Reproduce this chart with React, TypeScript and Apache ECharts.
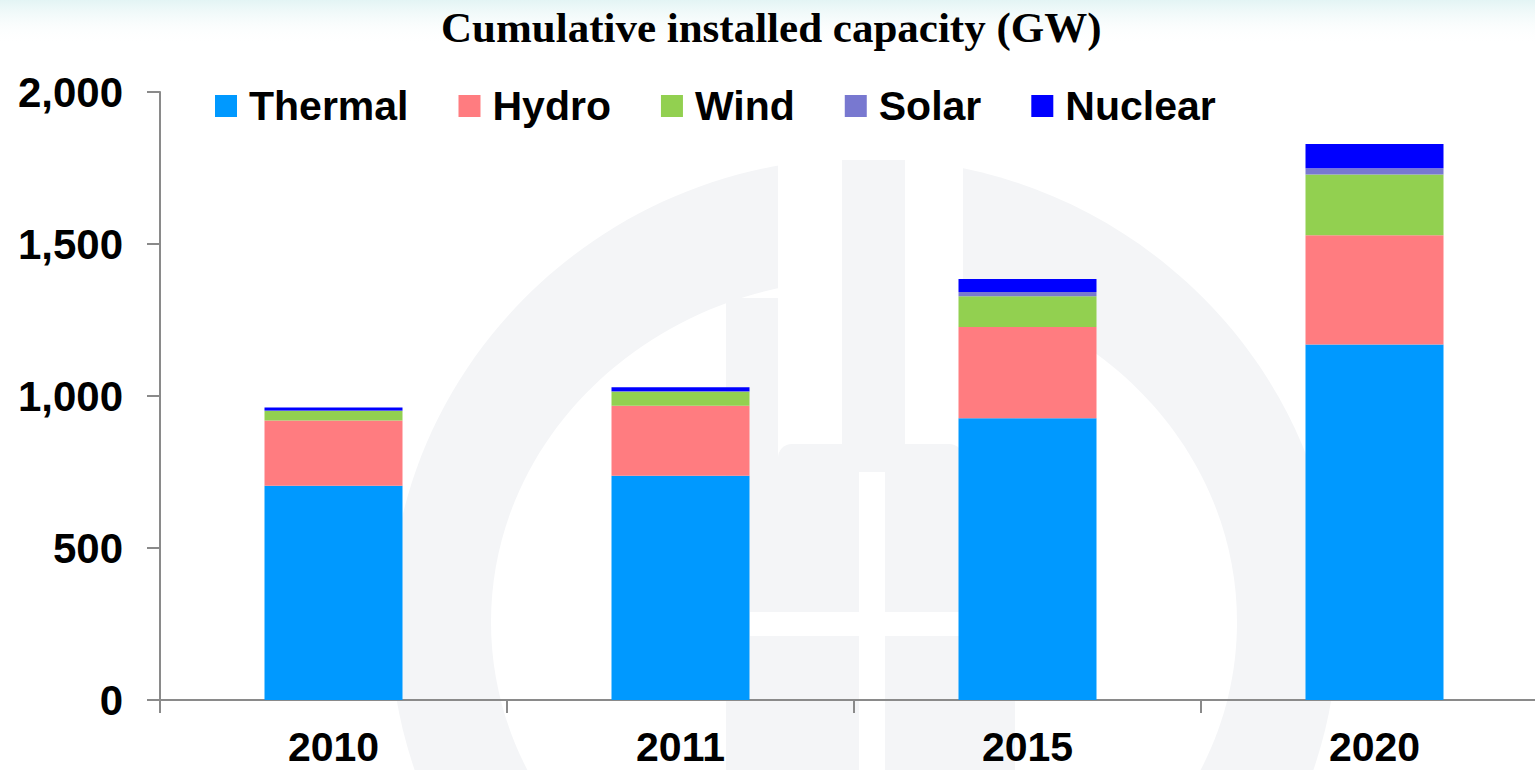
import React, { useEffect, useRef } from "react";
import * as echarts from "echarts";

const categories = ["2010", "2011", "2015", "2020"];
const seriesNames = ["Thermal", "Hydro", "Wind", "Solar", "Nuclear"];
const thermal = [705, 738, 927, 1169];
const hydro = [214, 230, 300, 360];
const wind = [32, 46, 101, 200];
const solar = [1, 2, 14, 20];
const nuclear = [10, 13, 43, 80];
const yTicks = [0, 500, 1000, 1500, 2000];
const colors = ["#0099FF", "#FF7C80", "#92D050", "#7878D0", "#0000FF"];

const WM = "#f4f5f7";

export default function App() {
  const ref = useRef<HTMLDivElement>(null);
  useEffect(() => {
    if (!ref.current) return;
    const chart = echarts.init(ref.current, null, { renderer: "svg" });
    const values = [thermal, hydro, wind, solar, nuclear];
    const axisColor = "#8a8a8a";
    const font = "Liberation Sans, Arial, sans-serif";
    chart.setOption({
      animation: false,
      backgroundColor: "#ffffff",
      title: {
        text: "Cumulative installed capacity (GW)",
        left: 436,
        top: 1,
        textStyle: {
          fontFamily: "Liberation Serif, Times New Roman, serif",
          fontWeight: "bold",
          fontSize: 43,
          color: "#000",
        },
      },
      legend: {
        data: seriesNames,
        left: 210,
        top: 79,
        itemWidth: 22,
        itemHeight: 22,
        itemGap: 50,
        icon: "rect",
        textStyle: {
          fontFamily: font,
          fontWeight: "bold",
          fontSize: 41,
          color: "#000",
          padding: [0, 0, 0, 7],
          lineHeight: 44,
        },
      },
      grid: { left: 160, right: 12, top: 92, bottom: 70 },
      xAxis: {
        type: "category",
        data: categories,
        axisLine: { lineStyle: { color: axisColor, width: 2 } },
        axisTick: { show: true, length: 13, lineStyle: { color: axisColor, width: 2 } },
        axisLabel: {
          fontFamily: font,
          fontWeight: "bold",
          fontSize: 41,
          lineHeight: 36,
          color: "#000",
          margin: 29,
        },
        splitLine: { show: false },
      },
      yAxis: {
        type: "value",
        min: yTicks[0],
        max: yTicks[yTicks.length - 1],
        interval: yTicks[1] - yTicks[0],
        axisLine: { show: true, lineStyle: { color: axisColor, width: 2 } },
        axisTick: { show: true, length: 13, lineStyle: { color: axisColor, width: 2 } },
        splitLine: { show: false },
        axisLabel: {
          fontFamily: font,
          fontWeight: "bold",
          fontSize: 42,
          color: "#000",
          margin: 37,
          formatter: (v: number) => v.toLocaleString("en-US"),
        },
      },
      graphic: [
        {
          type: "rect",
          silent: true,
          shape: { x: 0, y: 0, width: 1560, height: 45 },
          style: {
            fill: new echarts.graphic.LinearGradient(0, 0, 0, 1, [
              { offset: 0, color: "rgba(220,242,242,0.8)" },
              { offset: 1, color: "rgba(255,255,255,0)" },
            ]),
          },
        },
        { type: "ellipse", silent: true, shape: { cx: 864, cy: 622, rx: 474, ry: 464 }, style: { fill: WM } },
        { type: "ellipse", silent: true, shape: { cx: 864, cy: 622, rx: 373, ry: 343 }, style: { fill: "#ffffff" } },
        { type: "rect", silent: true, shape: { x: 778, y: 140, width: 185, height: 304 }, style: { fill: "#ffffff" } },
        { type: "rect", silent: true, shape: { x: 842, y: 160, width: 63, height: 284 }, style: { fill: WM } },
        { type: "rect", silent: true, shape: { x: 726, y: 298, width: 52, height: 472 }, style: { fill: WM } },
        { type: "rect", silent: true, shape: { x: 963, y: 298, width: 52, height: 472 }, style: { fill: WM } },
        { type: "rect", silent: true, shape: { x: 778, y: 444, width: 185, height: 326, r: [14, 14, 0, 0] }, style: { fill: WM } },
        { type: "rect", silent: true, shape: { x: 859, y: 472, width: 26, height: 300 }, style: { fill: "#ffffff" } },
        { type: "rect", silent: true, shape: { x: 750, y: 612, width: 265, height: 24 }, style: { fill: "#ffffff" } },
      ],
      series: seriesNames.map((name, i) => ({
        name,
        type: "bar",
        stack: "total",
        barWidth: 138,
        data: values[i],
        itemStyle: { color: colors[i] },
        emphasis: { disabled: true },
      })),
    });
    return () => chart.dispose();
  }, []);
  return (
    <div
      style={{
        position: "fixed",
        left: 0,
        top: 0,
        width: 1535,
        height: 770,
        overflow: "hidden",
        background: "#fff",
      }}
    >
      <div ref={ref} style={{ width: 1560, height: 770 }} />
    </div>
  );
}
